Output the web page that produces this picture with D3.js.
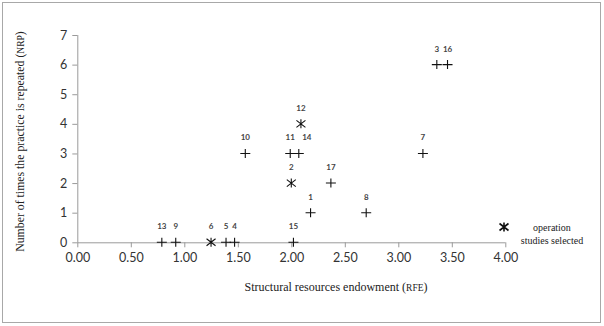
<!DOCTYPE html>
<html lang="en">
<head>
    <meta charset="UTF-8">
    <title>RFE vs NRP</title>
    <style>
        body { margin: 0; background: #fff; }
        .tick text { font-family: Lato, "Open Sans", sans-serif; font-size: 12.5px; fill: #333; }
        .domain, .tick line { stroke: #9a9a9a; }
    </style>
    <script src="https://d3js.org/d3.v7.min.js"></script>
</head>
<body>
<script>
    // practice id, structural resources endowment (RFE), times repeated (NRP)
    var ids = [1, 2, 3, 4, 5, 6, 7, 8, 9, 10, 11, 12, 13, 14, 15, 16, 17];
    var rfe = [2.18, 2.00, 3.36, 1.47, 1.39, 1.25, 3.23, 2.70, 0.92, 1.57, 1.99, 2.09, 0.79, 2.07, 2.02, 3.46, 2.37];
    var nrp = [1, 2, 6, 0, 0, 0, 3, 1, 0, 3, 3, 4, 0, 3, 0, 6, 2];
    var selected = [2, 6, 12];   // operation studies selected (asterisk)
    var xTicks = [0, 0.5, 1, 1.5, 2, 2.5, 3, 3.5, 4];
    var yTicks = [0, 1, 2, 3, 4, 5, 6, 7];

    var data = ids.map(function(id, i) {
        return {id: id, x: rfe[i], y: nrp[i], sel: selected.indexOf(id) >= 0};
    });

    var width = 604, height = 326;
    var svg = d3.select("body").append("svg")
        .attr("width", width)
        .attr("height", height);

    // outer frame
    svg.append("rect")
        .attr("x", 2.5).attr("y", 2.5)
        .attr("width", 598).attr("height", 320)
        .attr("fill", "none")
        .attr("stroke", "#a8a8a8");

    var xScale = d3.scaleLinear().domain([0, 4]).range([77.3, 505.3]);
    var yScale = d3.scaleLinear().domain([0, 7]).range([242.3, 35]);

    var xAxis = d3.axisBottom(xScale).tickValues(xTicks)
        .tickFormat(d3.format(".2f")).tickSize(5).tickPadding(6);
    var yAxis = d3.axisLeft(yScale).tickValues(yTicks)
        .tickFormat(d3.format("d")).tickSize(5).tickPadding(5);

    svg.append("g")
        .attr("transform", "translate(0," + yScale(0) + ")")
        .call(xAxis)
        .call(function(g) { g.select(".domain").attr("d", "M" + xScale(0) + ",0.5H" + xScale(4)); });

    svg.append("g")
        .attr("transform", "translate(" + xScale(0) + ",0)")
        .call(yAxis)
        .call(function(g) { g.select(".domain").attr("d", "M0.5," + yScale(0) + "V" + yScale(7)); });

    // axis titles
    var xt = svg.append("text")
        .attr("x", 336).attr("y", 291)
        .attr("text-anchor", "middle")
        .style("font-family", "'Liberation Serif', serif")
        .style("font-size", "12px")
        .style("fill", "#222");
    xt.append("tspan").text("Structural resources endowment (");
    xt.append("tspan").style("font-size", "9.5px").text("RFE");
    xt.append("tspan").text(")");

    var yt = svg.append("text")
        .attr("transform", "translate(24,141.5) rotate(-90)")
        .attr("text-anchor", "middle")
        .style("font-family", "'Liberation Serif', serif")
        .style("font-size", "11.8px")
        .style("fill", "#222");
    yt.append("tspan").text("Number of times the practice is repeated (");
    yt.append("tspan").style("font-size", "9.5px").text("NRP");
    yt.append("tspan").text(")");

    // markers
    var plus = "M-5,0H5M0,-4.5V4.5";
    var star = "M0,-4.5V4.5M-4.5,-3.5L4.5,3.5M-4.5,3.5L4.5,-3.5";

    var labelDx = {14: 8};

    var pts = svg.selectAll("g.pt")
        .data(data)
        .enter()
        .append("g")
        .attr("class", "pt")
        .attr("transform", function(d) { return "translate(" + xScale(d.x) + "," + yScale(d.y) + ")"; });

    pts.append("path")
        .attr("d", function(d) { return d.sel ? star : plus; })
        .attr("fill", "none")
        .attr("stroke", "#111")
        .attr("stroke-width", 1.1);

    pts.append("text")
        .attr("x", function(d) { return labelDx[d.id] || 0; })
        .attr("y", -13)
        .attr("text-anchor", "middle")
        .style("font-family", "Lato, 'Open Sans', sans-serif")
        .style("font-size", "8px")
        .style("font-weight", "bold")
        .style("fill", "#444")
        .text(function(d) { return d.id; });

    // legend
    svg.append("path")
        .attr("transform", "translate(504,227)")
        .attr("d", star)
        .attr("fill", "none")
        .attr("stroke", "#111")
        .attr("stroke-width", 1.6);

    var lg = svg.append("text")
        .attr("text-anchor", "middle")
        .style("font-family", "'Liberation Serif', serif")
        .style("font-size", "10px")
        .style("fill", "#222");
    lg.append("tspan").attr("x", 552).attr("y", 231).text("operation");
    lg.append("tspan").attr("x", 552).attr("y", 244).text("studies selected");
</script>
</body>
</html>
